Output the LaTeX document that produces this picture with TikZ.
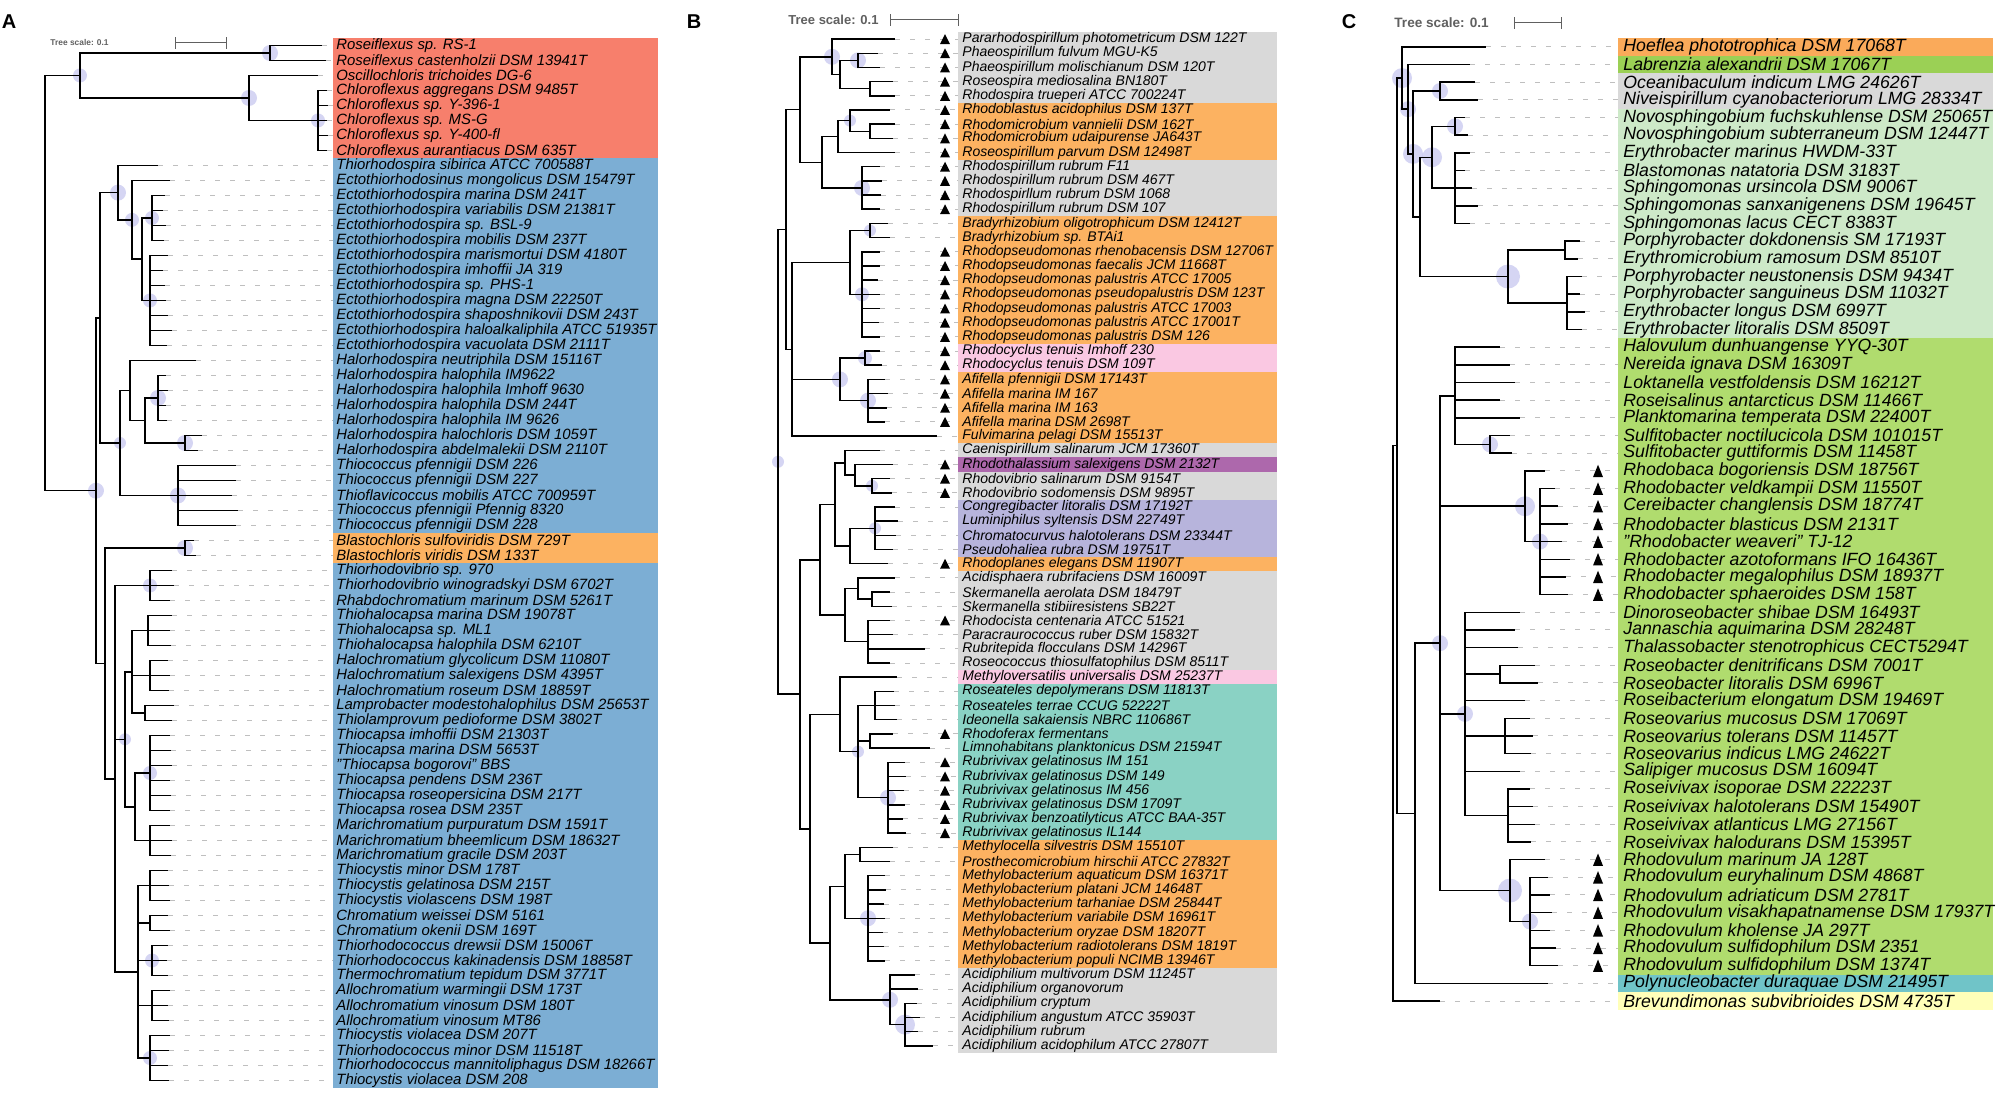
\documentclass[tikz,border=0pt]{standalone}
\usepackage{fontspec}
\setmainfont{Liberation Sans}
\definecolor{redA}{RGB}{247,127,108}
\definecolor{blueA}{RGB}{124,174,212}
\definecolor{orng}{RGB}{252,178,97}
\definecolor{greyB}{RGB}{217,217,217}
\definecolor{pinkB}{RGB}{250,200,226}
\definecolor{purpB}{RGB}{173,104,172}
\definecolor{lavB}{RGB}{183,180,220}
\definecolor{tealB}{RGB}{138,210,196}
\definecolor{orngC}{RGB}{250,170,90}
\definecolor{labC}{RGB}{155,208,85}
\definecolor{ltgrnC}{RGB}{205,233,200}
\definecolor{grnC}{RGB}{176,220,110}
\definecolor{polyC}{RGB}{112,196,200}
\definecolor{yelC}{RGB}{255,255,185}
\definecolor{bootcol}{RGB}{185,185,235}
\tikzset{
  branch/.style={line width=0.75pt},
  guide/.style={gray!50, line width=0.5pt, dash pattern=on 2.5pt off 5pt},
  boot/.style={fill=bootcol, fill opacity=0.6},
  taxon/.style={anchor=west, inner sep=0pt, font=\itshape\fontsize{#1}{#1}\selectfont},
  panel/.style={font=\bfseries\fontsize{10}{10}\selectfont},
  treescale/.style={anchor=west, inner sep=0pt, text=gray!75!black, font=\bfseries\fontsize{#1}{#1}\selectfont},
  scalebar/.style={gray!75!black, line width=0.5pt, |-|},
}
\newcommand\marktri[2]{\fill (#1,#2) ++(-5,0.35) -- ++(10,0) -- ++(-5,-0.7) -- cycle;}
\begin{document}
\begin{tikzpicture}[x=0.5pt,y=-0.5pt]
\useasboundingbox (0,0) rectangle (2000,1095);
\node[panel] (pA) at (9,22) {A};
\node[panel] (pB) at (694,22) {B};
\node[panel] (pC) at (1349,22) {C};
% tree scales
\node[treescale=4.2] (tsA) at (50,43) {Tree scale: 0.1};
\coordinate (sbA1) at (175,43); \coordinate (sbA2) at (227,43);
\draw[scalebar] (sbA1) -- (sbA2);
\node[treescale=6.5] (tsB) at (788,20) {Tree scale: 0.1};
\coordinate (sbB1) at (890,20); \coordinate (sbB2) at (959,20);
\draw[scalebar] (sbB1) -- (sbB2);
\node[treescale=6.8] (tsC) at (1394,23) {Tree scale: 0.1};
\coordinate (sbC1) at (1514,23); \coordinate (sbC2) at (1562,23);
\draw[scalebar] (sbC1) -- (sbC2);

%% ---------------- A ----------------
\begin{scope}[yshift=-15.25pt, y=-7.5pt]
\fill[redA] (333,0.5) rectangle (658,8.5);
\fill[blueA] (333,8.5) rectangle (658,33.5);
\fill[orng] (333,33.5) rectangle (658,35.5);
\fill[blueA] (333,35.5) rectangle (658,70.5);
\foreach \r/\x in {1/322,2/326,3/318,4/327,5/328,6/327,7/328,8/327,
  9/158,10/170,11/165,12/163,13/166,14/164,15/168,16/163,17/165,18/166,19/168,20/172,21/167,
  22/196,23/166,24/168,25/166,26/167,27/202,28/198,29/236,30/236,31/232,32/238,33/236,34/194,35/196,
  36/172,37/174,38/170,39/172,40/170,41/171,42/168,43/170,44/169,45/174,46/172,47/170,48/171,49/172,
  50/170,51/171,52/170,53/170,54/172,55/171,56/168,57/169,58/170,59/168,60/170,61/168,62/167,63/168,
  64/170,65/168,66/169,67/170,68/169,69/168,70/169}
  \coordinate (a\r) at (\x,\r);
\foreach \n/\x/\y in {aRF/270/1.5,aCC/318/6,aCH/249/4.5,aCF/80/3,aEcA/152/12.5,aEcB/150/18,
  aEC3/142/15.25,aEC2/132/12.625,aEC1/118/10.81,aHH/158/24.5,aHC/185/27.5,aHL2/145/26,aHL/130/24,
  aTC/178/31,aHT/120/27.5,aEE/100/19.16,aBL/185/34.5,aC1/150/37,aC2/148/40,aC3/150/43,aC4/145/45.5,
  aC5/150/49.5,aC6/150/54,aC7/150/57,aC8/150/59.5,aC9/152/62,aC10/152/65,aC11/150/68.5,
  aCgA/132/42.75,aCgB/135/51.75,aCgC/138/62.75,aCgD/125/47.25,aCHR/115/49.9,aBC/105/42.2,
  aX/96/30.68,aR/45/16.84}
  \coordinate (\n) at (\x,\y);
\foreach \n/\s in {aRF/4pt,aCH/4pt,aCC/3.5pt,aCF/3.5pt,aEC1/4pt,aEC2/3.5pt,aEcA/3.5pt,aEcB/3.5pt,
  aHH/4pt,aHC/4pt,aTC/4pt,aBL/4pt,aX/4pt,aC1/3.5pt,aC5/3.5pt,aC9/3.5pt,aC11/3.5pt,aCgD/3pt,aHT/3pt}
  \fill[boot] (\n) circle[radius=\s];
\foreach \r in {1,...,70} \draw[guide] (a\r) -- (333,\r);
\foreach \p/\c in {aR/aCF,aR/aX,aCF/aRF,aCF/aCH,aCH/a3,aCH/aCC,aX/aEE,aX/aBC,aEE/aEC1,aEE/aHT,
  aEC1/a9,aEC1/aEC2,aEC2/a10,aEC2/aEC3,aEC3/aEcA,aEC3/aEcB,aHT/aHL,aHT/aTC,aHL/a22,aHL/aHL2,
  aHL2/aHH,aHL2/aHC,aBC/aBL,aBC/aCHR,aCHR/aC1,aCHR/aCgD,aCHR/aCgC,aCgD/aCgA,aCgD/aCgB,
  aCgA/aC2,aCgA/aC3,aCgA/aC4,aCgB/aC5,aCgB/aC6,aCgC/aC7,aCgC/aC8,aCgC/aC9,aCgC/aC10,aCgC/aC11}
  \draw[branch] (\p) |- (\c);
\foreach \p/\i/\j in {aRF/1/2,aCC/4/8,aEcA/11/14,aEcB/15/21,aHH/23/26,aHC/27/28,aTC/29/33,aBL/34/35,
  aC1/36/38,aC2/39/41,aC3/42/44,aC4/45/46,aC5/47/52,aC6/53/55,aC7/56/58,aC8/59/60,aC9/61/63,
  aC10/64/66,aC11/67/70}
  \foreach \k in {\i,...,\j} \draw[branch] (\p) |- (a\k);
\foreach \r/\t in {1/Roseiflexus sp. RS-1,2/Roseiflexus castenholzii DSM 13941T,
  3/Oscillochloris trichoides DG-6,4/Chloroflexus aggregans DSM 9485T,5/Chloroflexus sp. Y-396-1,
  6/Chloroflexus sp. MS-G,7/Chloroflexus sp. Y-400-fl,8/Chloroflexus aurantiacus DSM 635T,
  9/Thiorhodospira sibirica ATCC 700588T,10/Ectothiorhodosinus mongolicus DSM 15479T,
  11/Ectothiorhodospira marina DSM 241T,12/Ectothiorhodospira variabilis DSM 21381T,
  13/Ectothiorhodospira sp. BSL-9,14/Ectothiorhodospira mobilis DSM 237T,
  15/Ectothiorhodospira marismortui DSM 4180T,16/Ectothiorhodospira imhoffii JA 319,
  17/Ectothiorhodospira sp. PHS-1,18/Ectothiorhodospira magna DSM 22250T,
  19/Ectothiorhodospira shaposhnikovii DSM 243T,20/Ectothiorhodospira haloalkaliphila ATCC 51935T,
  21/Ectothiorhodospira vacuolata DSM 2111T,22/Halorhodospira neutriphila DSM 15116T,
  23/Halorhodospira halophila IM9622,24/Halorhodospira halophila Imhoff 9630,
  25/Halorhodospira halophila DSM 244T,26/Halorhodospira halophila IM 9626,
  27/Halorhodospira halochloris DSM 1059T,28/Halorhodospira abdelmalekii DSM 2110T,
  29/Thiococcus pfennigii DSM 226,30/Thiococcus pfennigii DSM 227,
  31/Thioflavicoccus mobilis ATCC 700959T,32/Thiococcus pfennigii Pfennig 8320,
  33/Thiococcus pfennigii DSM 228,34/Blastochloris sulfoviridis DSM 729T,
  35/Blastochloris viridis DSM 133T,36/Thiorhodovibrio sp. 970,
  37/Thiorhodovibrio winogradskyi DSM 6702T,38/Rhabdochromatium marinum DSM 5261T,
  39/Thiohalocapsa marina DSM 19078T,40/Thiohalocapsa sp. ML1,41/Thiohalocapsa halophila DSM 6210T,
  42/Halochromatium glycolicum DSM 11080T,43/Halochromatium salexigens DSM 4395T,
  44/Halochromatium roseum DSM 18859T,45/Lamprobacter modestohalophilus DSM 25653T,
  46/Thiolamprovum pedioforme DSM 3802T,47/Thiocapsa imhoffii DSM 21303T,
  48/Thiocapsa marina DSM 5653T,49/"Thiocapsa bogorovi" BBS,50/Thiocapsa pendens DSM 236T,
  51/Thiocapsa roseopersicina DSM 217T,52/Thiocapsa rosea DSM 235T,
  53/Marichromatium purpuratum DSM 1591T,54/Marichromatium bheemlicum DSM 18632T,
  55/Marichromatium gracile DSM 203T,56/Thiocystis minor DSM 178T,57/Thiocystis gelatinosa DSM 215T,
  58/Thiocystis violascens DSM 198T,59/Chromatium weissei DSM 5161,60/Chromatium okenii DSM 169T,
  61/Thiorhodococcus drewsii DSM 15006T,62/Thiorhodococcus kakinadensis DSM 18858T,
  63/Thermochromatium tepidum DSM 3771T,64/Allochromatium warmingii DSM 173T,
  65/Allochromatium vinosum DSM 180T,66/Allochromatium vinosum MT86,
  67/Thiocystis violacea DSM 207T,68/Thiorhodococcus minor DSM 11518T,
  69/Thiorhodococcus mannitoliphagus DSM 18266T,70/Thiocystis violacea DSM 208}
  \node[taxon=7.45] (la\r) at (336,\r) {\t};
\end{scope}

%% ---------------- B ----------------
\begin{scope}[yshift=-12.455pt, y=-7.09pt]
\foreach \c/\i/\j in {greyB/1/5,orng/6/9,greyB/10/13,orng/14/22,pinkB/23/24,orng/25/29,greyB/30/30,
  purpB/31/31,greyB/32/33,lavB/34/37,orng/38/38,greyB/39/45,pinkB/46/46,tealB/47/57,orng/58/66,greyB/67/72}
  \fill[\c] (958,\i-0.5) rectangle (1277,\j+0.5);
\foreach \r/\x in {1/895,2/878,3/880,4/893,5/895,6/890,7/895,8/893,9/895,10/880,11/882,12/881,13/880,
  14/888,15/890,16/880,17/880,18/878,19/880,20/880,21/879,22/880,23/880,24/882,25/885,26/888,27/887,
  28/885,29/937,30/880,31/893,32/890,33/892,34/895,35/898,36/896,37/893,38/888,39/895,40/890,41/892,
  42/890,43/893,44/925,45/890,46/897,47/894,48/895,49/897,50/893,51/930,52/905,53/906,54/904,55/905,
  56/903,57/906,58/893,59/890,60/885,61/886,62/884,63/885,64/883,65/884,66/885,67/915,68/918,69/917,
  70/920,71/918,72/933}
  \coordinate (b\r) at (\x,\r);
\foreach \n/\x/\y in {bR/778/30.81,bG12/786/14.42,bBy/800/5.97,bBp/832/2.25,bBq/840/3.5,bPh/858/2.5,
  bRs/870/4.5,bBx/822/9.69,bRb2/838/7.875,bRb/850/6.75,bRm/870/7.5,bRr/862/11.5,bBv/792/22.875,
  bBz/850/16.75,bBr/870/14.5,bRp/862/19,bBw/840/25,bRc/865/23.5,bAf/868/26.5,
  bG3/800/47.2,bBm/820/37.72,bBo/835/33.81,bBt/845/30.88,bBu/855/31.75,bRv/872/32.5,bBs/850/36.75,
  bCg/875/35.5,bBn/845/41.63,bAc/858/39.75,bSk/872/40.5,bRk/868/43.5,bBg/810/56.69,bBj/840/48.63,
  bBk/858/51.25,bRa/875/48,bRf/870/50.5,bRx/888/54.5,bBh/830/64.75,bBi/845/60.75,bMc/860/58.5,
  bMl/868/63,bAd/890/68.75,bAd2/905/70.5}
  \coordinate (\n) at (\x,\y);
\foreach \n/\s in {bPh/4pt,bBp/4pt,bRr/4pt,bRb/3pt,bRp/3.5pt,bBr/3pt,bAf/4pt,bRc/3.5pt,bCg/3pt,
  bRx/4pt,bMl/4pt,bAd/4pt,bAd2/5pt,bBk/3pt,bRv/3pt,bBw/4pt,bR/3pt}
  \fill[boot] (\n) circle[radius=\s];
\foreach \r in {1,...,72} \draw[guide] (b\r) -- (958,\r);
\foreach \i/\j in {1/13,16/28,31/33,38/38,42/42,50/50,52/57}
  \foreach \r in {\i,...,\j} \marktri{945}{\r}
\foreach \p/\c in {bR/bG12,bR/bG3,bG12/bBy,bG12/bBv,bBy/bBp,bBy/bBx,bBp/b1,bBp/bBq,bBq/bPh,bBq/bRs,
  bBx/bRb2,bBx/bRr,bRb2/bRb,bRb2/b9,bRb/b6,bRb/bRm,bBv/bBz,bBv/bBw,bBv/b29,bBz/bBr,bBz/bRp,bBw/bRc,
  bBw/bAf,bG3/bBm,bG3/bBg,bBm/bBo,bBm/bBn,bBo/bBt,bBo/bBs,bBt/b30,bBt/bBu,bBu/b31,bBu/bRv,
  bBs/bCg,bBs/b38,bBn/bAc,bBn/bRk,bAc/b39,bAc/bSk,bBg/bBj,bBg/bBh,bBj/b46,bBj/bBk,bBk/bRa,bBk/bRf,
  bBk/bRx,bBh/bBi,bBh/bAd,bBi/bMc,bBi/bMl,bAd/bAd2}
  \draw[branch] (\p) |- (\c);
\foreach \p/\i/\j in {bPh/2/3,bRs/4/5,bRm/7/8,bRr/10/13,bBr/14/15,bRp/16/22,bRc/23/24,bAf/25/28,
  bRv/32/33,bCg/34/37,bSk/40/41,bRk/42/45,bRa/47/49,bRf/50/51,bRx/52/57,bMc/58/59,bMl/60/66,
  bAd/67/68,bAd2/69/72}
  \foreach \k in {\i,...,\j} \draw[branch] (\p) |- (b\k);
\foreach \r/\t in {1/Pararhodospirillum photometricum DSM 122T,2/Phaeospirillum fulvum MGU-K5,
  3/Phaeospirillum molischianum DSM 120T,4/Roseospira mediosalina BN180T,
  5/Rhodospira trueperi ATCC 700224T,6/Rhodoblastus acidophilus DSM 137T,
  7/Rhodomicrobium vannielii DSM 162T,8/Rhodomicrobium udaipurense JA643T,
  9/Roseospirillum parvum DSM 12498T,10/Rhodospirillum rubrum F11,11/Rhodospirillum rubrum DSM 467T,
  12/Rhodospirllum rubrum DSM 1068,13/Rhodospirillum rubrum DSM 107,
  14/Bradyrhizobium oligotrophicum DSM 12412T,15/Bradyrhizobium sp. BTAi1,
  16/Rhodopseudomonas rhenobacensis DSM 12706T,17/Rhodopseudomonas faecalis JCM 11668T,
  18/Rhodopseudomonas palustris ATCC 17005,19/Rhodopseudomonas pseudopalustris DSM 123T,
  20/Rhodopseudomonas palustris ATCC 17003,21/Rhodopseudomonas palustris ATCC 17001T,
  22/Rhodopseudomonas palustris DSM 126,23/Rhodocyclus tenuis Imhoff 230,24/Rhodocyclus tenuis DSM 109T,
  25/Afifella pfennigii DSM 17143T,26/Afifella marina IM 167,27/Afifella marina IM 163,
  28/Afifella marina DSM 2698T,29/Fulvimarina pelagi DSM 15513T,30/Caenispirillum salinarum JCM 17360T,
  31/Rhodothalassium salexigens DSM 2132T,32/Rhodovibrio salinarum DSM 9154T,
  33/Rhodovibrio sodomensis DSM 9895T,34/Congregibacter litoralis DSM 17192T,
  35/Luminiphilus syltensis DSM 22749T,36/Chromatocurvus halotolerans DSM 23344T,
  37/Pseudohaliea rubra DSM 19751T,38/Rhodoplanes elegans DSM 11907T,
  39/Acidisphaera rubrifaciens DSM 16009T,40/Skermanella aerolata DSM 18479T,
  41/Skermanella stibiiresistens SB22T,42/Rhodocista centenaria ATCC 51521,
  43/Paracraurococcus ruber DSM 15832T,44/Rubritepida flocculans DSM 14296T,
  45/Roseococcus thiosulfatophilus DSM 8511T,46/Methyloversatilis universalis DSM 25237T,
  47/Roseateles depolymerans DSM 11813T,48/Roseateles terrae CCUG 52222T,
  49/Ideonella sakaiensis NBRC 110686T,50/Rhodoferax fermentans,51/Limnohabitans planktonicus DSM 21594T,
  52/Rubrivivax gelatinosus IM 151,53/Rubrivivax gelatinosus DSM 149,54/Rubrivivax gelatinosus IM 456,
  55/Rubrivivax gelatinosus DSM 1709T,56/Rubrivivax benzoatilyticus ATCC BAA-35T,
  57/Rubrivivax gelatinosus IL144,58/Methylocella silvestris DSM 15510T,
  59/Prosthecomicrobium hirschii ATCC 27832T,60/Methylobacterium aquaticum DSM 16371T,
  61/Methylobacterium platani JCM 14648T,62/Methylobacterium tarhaniae DSM 25844T,
  63/Methylobacterium variabile DSM 16961T,64/Methylobacterium oryzae DSM 18207T,
  65/Methylobacterium radiotolerans DSM 1819T,66/Methylobacterium populi NCIMB 13946T,
  67/Acidiphilium multivorum DSM 11245T,68/Acidiphilium organovorum,69/Acidiphilium cryptum,
  70/Acidiphilium angustum ATCC 35903T,71/Acidiphilium rubrum,72/Acidiphilium acidophilum ATCC 27807T}
  \node[taxon=7.0] (lb\r) at (962,\r) {\t};
\end{scope}

%% ---------------- C ----------------
\begin{scope}[yshift=-14.58pt, y=-8.835pt]
\foreach \c/\i/\j in {orngC/1/1,labC/2/2,greyB/3/4,ltgrnC/5/17,grnC/18/53,polyC/54/54,yelC/55/55}
  \fill[\c] (1618,\i-0.5) rectangle (1993,\j+0.5);
\foreach \r/\x in {1/1486,2/1470,3/1475,4/1478,5/1465,6/1468,7/1470,8/1465,9/1472,10/1478,11/1470,
  12/1580,13/1578,14/1582,15/1580,16/1585,17/1582,18/1500,19/1510,20/1515,21/1500,22/1520,23/1510,
  24/1512,25/1545,26/1555,27/1558,28/1568,29/1562,30/1570,31/1566,32/1568,33/1520,34/1515,35/1518,
  36/1535,37/1538,38/1525,39/1530,40/1533,41/1531,42/1520,43/1530,44/1533,45/1535,46/1531,47/1545,
  48/1548,49/1550,50/1552,51/1550,52/1556,53/1558,54/1548,55/1440}
  \coordinate (c\r) at (\x,\r);
\foreach \n/\x/\y in {cR/1393/39.29,cCA/1397/23.57,cCt/1402/2.77,cLb/1408/4.53,cCx/1413/7.06,
  cSph2/1420/10.63,cSph/1432/7.25,cNv/1455/5.5,cSp1/1455/9,cEry/1508/14,cEr1/1565/12.5,cEr2/1567/15.5,
  cOc/1440/3.5,cCB/1415/44.38,cRba/1440/34.75,cRd1/1455/20.75,cSf/1490/23.5,cRbb/1525/27,cRb1/1540/29,
  cRd2/1465/38.75,cRsb/1500/36.5,cRov/1505/40,cRvx/1508/44.5,cRvl/1510/48.75,cRvl1/1530/50.5}
  \coordinate (\n) at (\x,\y);
\foreach \n/\s in {cNv/4pt,cSph/5pt,cEry/6pt,cOc/4pt,cCt/5pt,cLb/4pt,cCx/5pt,cRba/4pt,cRbb/5pt,
  cRvl/6pt,cRd2/4pt,cSf/4pt,cRb1/4pt,cRvl1/4pt}
  \fill[boot] (\n) circle[radius=\s];
\foreach \r in {1,...,55} \draw[guide] (c\r) -- (1618,\r);
\foreach \i/\j in {25/32,47/53}
  \foreach \r in {\i,...,\j} \marktri{1598}{\r}
\foreach \p/\c in {cR/cCA,cR/c55,cCA/cCt,cCA/cCB,cCt/c1,cCt/cLb,cLb/c2,cLb/cCx,cCx/cOc,cCx/cSph2,
  cSph2/cSph,cSph2/cEry,cSph/cNv,cSph/cSp1,cEry/cEr1,cEry/cEr2,cCB/cRba,cCB/c54,cRba/cRd1,cRba/cRbb,
  cRba/cRd2,cRba/cRvl,cRd1/cSf,cRbb/c25,cRbb/cRb1,cRd2/c33,cRd2/c34,cRd2/c35,cRd2/cRsb,cRd2/c38,
  cRd2/cRov,cRd2/c42,cRd2/cRvx,cRvl/c47,cRvl/cRvl1}
  \draw[branch] (\p) |- (\c);
\foreach \p/\i/\j in {cOc/3/4,cNv/5/6,cSp1/7/11,cEr1/12/13,cEr2/14/17,cRd1/18/22,cSf/23/24,cRb1/26/32,
  cRsb/36/37,cRov/39/41,cRvx/43/46,cRvl1/48/53}
  \foreach \k in {\i,...,\j} \draw[branch] (\p) |- (c\k);
\foreach \r/\t in {1/Hoeflea phototrophica DSM 17068T,2/Labrenzia alexandrii DSM 17067T,
  3/Oceanibaculum indicum LMG 24626T,4/Niveispirillum cyanobacteriorum LMG 28334T,
  5/Novosphingobium fuchskuhlense DSM 25065T,6/Novosphingobium subterraneum DSM 12447T,
  7/Erythrobacter marinus HWDM-33T,8/Blastomonas natatoria DSM 3183T,9/Sphingomonas ursincola DSM 9006T,
  10/Sphingomonas sanxanigenens DSM 19645T,11/Sphingomonas lacus CECT 8383T,
  12/Porphyrobacter dokdonensis SM 17193T,13/Erythromicrobium ramosum DSM 8510T,
  14/Porphyrobacter neustonensis DSM 9434T,15/Porphyrobacter sanguineus DSM 11032T,
  16/Erythrobacter longus DSM 6997T,17/Erythrobacter litoralis DSM 8509T,
  18/Halovulum dunhuangense YYQ-30T,19/Nereida ignava DSM 16309T,20/Loktanella vestfoldensis DSM 16212T,
  21/Roseisalinus antarcticus DSM 11466T,22/Planktomarina temperata DSM 22400T,
  23/Sulfitobacter noctilucicola DSM 101015T,24/Sulfitobacter guttiformis DSM 11458T,
  25/Rhodobaca bogoriensis DSM 18756T,26/Rhodobacter veldkampii DSM 11550T,
  27/Cereibacter changlensis DSM 18774T,28/Rhodobacter blasticus DSM 2131T,
  29/"Rhodobacter weaveri" TJ-12,30/Rhodobacter azotoformans IFO 16436T,
  31/Rhodobacter megalophilus DSM 18937T,32/Rhodobacter sphaeroides DSM 158T,
  33/Dinoroseobacter shibae DSM 16493T,34/Jannaschia aquimarina DSM 28248T,
  35/Thalassobacter stenotrophicus CECT5294T,36/Roseobacter denitrificans DSM 7001T,
  37/Roseobacter litoralis DSM 6996T,38/Roseibacterium elongatum DSM 19469T,
  39/Roseovarius mucosus DSM 17069T,40/Roseovarius tolerans DSM 11457T,41/Roseovarius indicus LMG 24622T,
  42/Salipiger mucosus DSM 16094T,43/Roseivivax isoporae DSM 22223T,44/Roseivivax halotolerans DSM 15490T,
  45/Roseivivax atlanticus LMG 27156T,46/Roseivivax halodurans DSM 15395T,47/Rhodovulum marinum JA 128T,
  48/Rhodovulum euryhalinum DSM 4868T,49/Rhodovulum adriaticum DSM 2781T,
  50/Rhodovulum visakhapatnamense DSM 17937T,51/Rhodovulum kholense JA 297T,
  52/Rhodovulum sulfidophilum DSM 2351,53/Rhodovulum sulfidophilum DSM 1374T,
  54/Polynucleobacter duraquae DSM 21495T,55/Brevundimonas subvibrioides DSM 4735T}
  \node[taxon=8.85] (lc\r) at (1623,\r) {\t};
\end{scope}
\end{tikzpicture}
\end{document}
